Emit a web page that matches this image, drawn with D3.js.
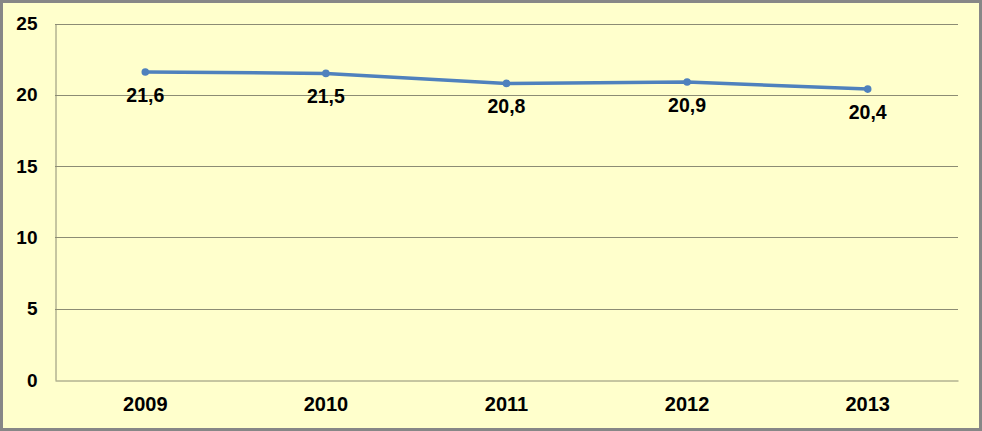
<!DOCTYPE html>
<html><head><meta charset="utf-8">
<script src="https://cdn.jsdelivr.net/npm/d3@7"></script>
<style>
html,body{margin:0;padding:0;background:#fff;}
svg{display:block;}
</style></head>
<body>
<script>
const years = ["2009","2010","2011","2012","2013"];
const values = [21.6, 21.5, 20.8, 20.9, 20.4];
const labels = ["21,6","21,5","20,8","20,9","20,4"];
const yTicks = [0,5,10,15,20,25];

const W = 982, H = 431;
const m = {left:55, right:24, top:23.5, bottom:51};
const svg = d3.select("body").append("svg").attr("width",W).attr("height",H);

svg.append("rect").attr("x",1.5).attr("y",1.5).attr("width",W-3).attr("height",H-3)
  .attr("fill","#FFFFCC").attr("stroke","#878787").attr("stroke-width",3);

const x = d3.scaleBand().domain(years).range([m.left, W-m.right]);
const y = d3.scaleLinear().domain([0,25]).range([H-m.bottom, m.top]);

const font = "Arial, 'Liberation Sans', sans-serif";

// gridlines
svg.append("g").selectAll("line").data(yTicks.filter(d=>d>0)).join("line")
  .attr("x1",m.left).attr("x2",W-m.right)
  .attr("y1",d=>Math.round(y(d))+0.5).attr("y2",d=>Math.round(y(d))+0.5)
  .attr("stroke","#8C8C74").attr("stroke-width",1);

// y axis
const ya = svg.append("g").attr("transform",`translate(${m.left+0.5},0)`)
  .call(d3.axisLeft(y).tickValues(yTicks).tickSize(0).tickPadding(18));
ya.select(".domain").attr("stroke","#8C8C74");
ya.selectAll("text").attr("font-family",font).attr("font-weight","bold")
  .attr("font-size",19).attr("fill","#000");

// x axis
const xa = svg.append("g").attr("transform",`translate(0,${Math.round(y(0))+0.5})`)
  .call(d3.axisBottom(x).tickSize(0).tickPadding(16));
xa.select(".domain").attr("stroke","#8C8C74");
xa.selectAll("text").attr("font-family",font).attr("font-weight","bold")
  .attr("font-size",20).attr("fill","#000");

const cx = d => x(d) + x.bandwidth()/2;
const line = d3.line().x((d,i)=>cx(years[i])).y(d=>y(d));
svg.append("path").datum(values).attr("d",line)
  .attr("fill","none").attr("stroke","#4F81BD").attr("stroke-width",3.5)
  .attr("stroke-linejoin","round");

svg.append("g").selectAll("circle").data(values).join("circle")
  .attr("cx",(d,i)=>cx(years[i])).attr("cy",d=>y(d)).attr("r",3.8)
  .attr("fill","#4F81BD");

svg.append("g").selectAll("text").data(values).join("text")
  .attr("x",(d,i)=>cx(years[i])).attr("y",d=>y(d)+30)
  .attr("text-anchor","middle").attr("font-family",font).attr("font-weight","bold")
  .attr("font-size",19.5).attr("fill","#000")
  .text((d,i)=>labels[i]);
</script>
</body></html>
